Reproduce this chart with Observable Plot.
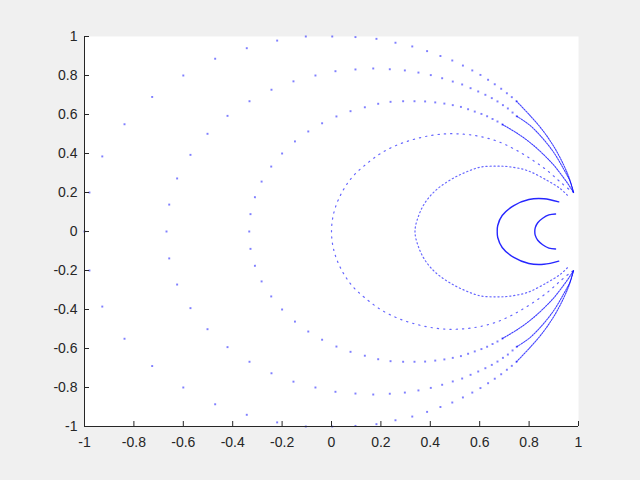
<!DOCTYPE html>
<html>
<head>
<meta charset="utf-8">
<script src="https://cdn.jsdelivr.net/npm/d3@7"></script>
<script src="https://cdn.jsdelivr.net/npm/@observablehq/plot@0.6"></script>
<style>
  html, body { margin: 0; padding: 0; background: #f0f0f0; }
</style>
</head>
<body>
<div id="chart"></div>
<script>
// Axis ranges and ticks
const xDomain = [-1, 1];
const yDomain = [-1, 1];
const xTicks = [-1, -0.8, -0.6, -0.4, -0.2, 0, 0.2, 0.4, 0.6, 0.8, 1];
const yTicks = [-1, -0.8, -0.6, -0.4, -0.2, 0, 0.2, 0.4, 0.6, 0.8, 1];

// Outermost curve (leftmost at x = -1): sparse dots
const unitDots = [
  [-1, 0], [-0.98, 0.2], [-0.928, 0.385], [-0.838, 0.55], [-0.726, 0.69], [-0.6, 0.8],
  [-0.471, 0.886], [-0.343, 0.94], [-0.22, 0.979], [-0.104, 1.0], [0.003, 1.0], [0.097, 0.997],
  [0.182, 0.988], [0.259, 0.968], [0.327, 0.949], [0.387, 0.925], [0.441, 0.9], [0.489, 0.877],
  [0.532, 0.851], [0.57, 0.826], [0.603, 0.803], [0.634, 0.778], [0.661, 0.755], [0.687, 0.732],
  [0.71, 0.709], [0.73, 0.689], [0.749, 0.668],
  [-0.98, -0.2], [-0.928, -0.385], [-0.838, -0.55], [-0.726, -0.69], [-0.6, -0.8],
  [-0.471, -0.886], [-0.343, -0.94], [-0.22, -0.979], [-0.104, -1.0], [0.003, -1.0], [0.097, -0.997],
  [0.182, -0.988], [0.259, -0.968], [0.327, -0.949], [0.387, -0.925], [0.441, -0.9], [0.489, -0.877],
  [0.532, -0.851], [0.57, -0.826], [0.603, -0.803], [0.634, -0.778], [0.661, -0.755], [0.687, -0.732],
  [0.71, -0.709], [0.73, -0.689], [0.749, -0.668]
];
const unitTailUpper = [[0.749, 0.668], [0.8, 0.6], [0.85, 0.527], [0.9, 0.436], [0.94, 0.341], [0.965, 0.265], [0.98, 0.2]];
const unitTailLower = [[0.749, -0.668], [0.8, -0.6], [0.85, -0.527], [0.9, -0.436], [0.94, -0.341], [0.965, -0.265], [0.98, -0.2]];

// Curve with leftmost point at x = -0.67
const c4Dots = [
  [-0.668, 0], [-0.657, 0.138], [-0.625, 0.272], [-0.571, 0.393], [-0.502, 0.501], [-0.421, 0.593],
  [-0.332, 0.668], [-0.243, 0.727], [-0.154, 0.77], [-0.065, 0.8], [0.016, 0.822], [0.097, 0.831],
  [0.169, 0.836], [0.236, 0.832], [0.297, 0.826], [0.352, 0.815], [0.402, 0.802], [0.448, 0.786],
  [0.491, 0.769], [0.529, 0.754], [0.563, 0.735], [0.594, 0.718], [0.623, 0.701], [0.649, 0.684],
  [0.672, 0.667], [0.694, 0.648], [0.714, 0.631], [0.733, 0.61], [0.75, 0.591],
  [-0.657, -0.138], [-0.625, -0.272], [-0.571, -0.393], [-0.502, -0.501], [-0.421, -0.593],
  [-0.332, -0.668], [-0.243, -0.727], [-0.154, -0.77], [-0.065, -0.8], [0.016, -0.822], [0.097, -0.831],
  [0.169, -0.836], [0.236, -0.832], [0.297, -0.826], [0.352, -0.815], [0.402, -0.802], [0.448, -0.786],
  [0.491, -0.769], [0.529, -0.754], [0.563, -0.735], [0.594, -0.718], [0.623, -0.701], [0.649, -0.684],
  [0.672, -0.667], [0.694, -0.648], [0.714, -0.631], [0.733, -0.61], [0.75, -0.591]
];
const c4TailUpper = [[0.75, 0.591], [0.8, 0.548], [0.85, 0.485], [0.9, 0.405], [0.94, 0.32], [0.965, 0.26], [0.98, 0.2]];
const c4TailLower = [[0.75, -0.591], [0.8, -0.548], [0.85, -0.485], [0.9, -0.405], [0.94, -0.32], [0.965, -0.26], [0.98, -0.2]];

// Curve with leftmost point at x = -0.33
const c3Dots = [
  [-0.333, 0], [-0.328, 0.089], [-0.31, 0.176], [-0.283, 0.256], [-0.244, 0.333], [-0.2, 0.4],
  [-0.148, 0.462], [-0.094, 0.513], [-0.038, 0.555], [0.02, 0.59], [0.077, 0.617], [0.135, 0.637],
  [0.189, 0.655], [0.239, 0.665], [0.29, 0.668], [0.336, 0.668], [0.379, 0.667], [0.42, 0.662],
  [0.457, 0.656], [0.491, 0.648], [0.524, 0.639], [0.553, 0.627], [0.58, 0.615], [0.607, 0.603],
  [0.63, 0.591], [0.652, 0.577], [0.672, 0.564], [0.692, 0.549],
  [-0.328, -0.089], [-0.31, -0.176], [-0.283, -0.256], [-0.244, -0.333], [-0.2, -0.4],
  [-0.148, -0.462], [-0.094, -0.513], [-0.038, -0.555], [0.02, -0.59], [0.077, -0.617], [0.135, -0.637],
  [0.189, -0.655], [0.239, -0.665], [0.29, -0.668], [0.336, -0.668], [0.379, -0.667], [0.42, -0.662],
  [0.457, -0.656], [0.491, -0.648], [0.524, -0.639], [0.553, -0.627], [0.58, -0.615], [0.607, -0.603],
  [0.63, -0.591], [0.652, -0.577], [0.672, -0.564], [0.692, -0.549]
];
const c3TailUpper = [[0.692, 0.549], [0.75, 0.505], [0.8, 0.46], [0.85, 0.405], [0.9, 0.34], [0.94, 0.275], [0.965, 0.23], [0.98, 0.2]];
const c3TailLower = [[0.692, -0.549], [0.75, -0.505], [0.8, -0.46], [0.85, -0.405], [0.9, -0.34], [0.94, -0.275], [0.965, -0.23], [0.98, -0.2]];

// Curve with leftmost point at x = 0 (dense dotted)
const c2Line = [
  [0.98, 0.2], [0.968, 0.21], [0.927, 0.253], [0.873, 0.313], [0.806, 0.373], [0.738, 0.424],
  [0.671, 0.463], [0.603, 0.487], [0.536, 0.499], [0.468, 0.501], [0.401, 0.492], [0.332, 0.472],
  [0.267, 0.444], [0.201, 0.402], [0.14, 0.345], [0.084, 0.279], [0.039, 0.193], [0.01, 0.099], [0.0, 0],
  [0.01, -0.099], [0.039, -0.193], [0.084, -0.279], [0.14, -0.345], [0.201, -0.402], [0.267, -0.444],
  [0.332, -0.472], [0.401, -0.492], [0.468, -0.501], [0.536, -0.499], [0.603, -0.487], [0.671, -0.463],
  [0.738, -0.424], [0.806, -0.373], [0.873, -0.313], [0.927, -0.253], [0.968, -0.21], [0.98, -0.2]
];

// Curve with leftmost point at x = 0.34 (very dense dotted)
const c1Line = [
  [0.955, 0.186], [0.927, 0.219], [0.873, 0.262], [0.792, 0.313], [0.72, 0.332], [0.67, 0.335],
  [0.603, 0.33], [0.536, 0.3], [0.475, 0.26], [0.421, 0.21], [0.38, 0.15], [0.353, 0.082], [0.338, 0],
  [0.353, -0.082], [0.38, -0.15], [0.421, -0.21], [0.475, -0.26], [0.536, -0.3], [0.603, -0.33],
  [0.67, -0.335], [0.72, -0.332], [0.792, -0.313], [0.873, -0.262], [0.927, -0.219], [0.955, -0.186]
];

// Two solid arcs near the right
const arcOuter = [
  [0.92, 0.152], [0.86, 0.168], [0.799, 0.164], [0.738, 0.133], [0.691, 0.082], [0.673, 0.031], [0.671, 0],
  [0.673, -0.031], [0.691, -0.082], [0.738, -0.133], [0.799, -0.164], [0.86, -0.168], [0.92, -0.152]
];
const arcInner = [
  [0.907, 0.09], [0.88, 0.085], [0.855, 0.068], [0.835, 0.045], [0.825, 0.02], [0.823, 0],
  [0.825, -0.02], [0.835, -0.045], [0.855, -0.068], [0.88, -0.085], [0.907, -0.09]
];

const blue = "#0000ff";
const axisColor = "#262626";
const fmt = d => String(d);

const tail = (data) => Plot.line(data, {curve: "catmull-rom", stroke: blue, strokeWidth: 1.1, strokeOpacity: 0.75, strokeDasharray: "1.5,1.2"});
const dots = (data) => Plot.dot(data, {symbol: "square", r: 1.1, fill: blue, fillOpacity: 0.5, stroke: "none"});

const chart = Plot.plot({
  width: 640,
  height: 480,
  marginLeft: 84,
  marginRight: 62,
  marginTop: 36,
  marginBottom: 54,
  style: {background: "#f0f0f0", fontFamily: "'Liberation Sans', Arial, sans-serif", fontSize: "14px", color: axisColor},
  x: {domain: xDomain},
  y: {domain: yDomain},
  marks: [
    Plot.frame({fill: "white", stroke: "none"}),
    dots(unitDots),
    dots(c4Dots),
    dots(c3Dots),
    tail(unitTailUpper), tail(unitTailLower),
    tail(c4TailUpper), tail(c4TailLower),
    tail(c3TailUpper), tail(c3TailLower),
    Plot.line(c2Line, {curve: "catmull-rom", stroke: blue, strokeWidth: 1.2, strokeOpacity: 0.6, strokeDasharray: "1.3,5"}),
    Plot.line(c1Line, {curve: "catmull-rom", stroke: blue, strokeWidth: 1.2, strokeOpacity: 0.6, strokeDasharray: "1.2,2.8"}),
    Plot.line(arcOuter, {curve: "catmull-rom", stroke: blue, strokeWidth: 1.4, strokeOpacity: 0.85}),
    Plot.line(arcInner, {curve: "catmull-rom", stroke: blue, strokeWidth: 1.4, strokeOpacity: 0.85}),
    Plot.ruleX([xDomain[0]], {stroke: axisColor, strokeWidth: 1}),
    Plot.ruleY([yDomain[0]], {stroke: axisColor, strokeWidth: 1}),
    Plot.axisX({ticks: xTicks, tickFormat: fmt, tickSize: -5, tickPadding: 16, label: null, stroke: axisColor, fontSize: 14}),
    Plot.axisY({ticks: yTicks, tickFormat: fmt, tickSize: -5, tickPadding: 12, label: null, stroke: axisColor, fontSize: 14})
  ]
});
document.getElementById("chart").appendChild(chart);
</script>
</body>
</html>
